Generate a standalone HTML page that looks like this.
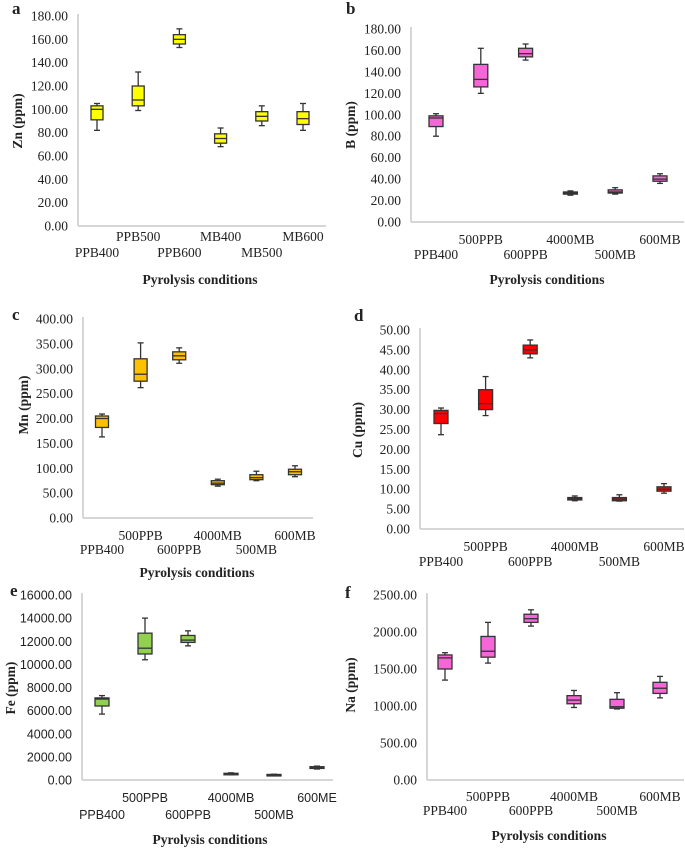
<!DOCTYPE html>
<html><head><meta charset="utf-8"><style>
html,body{margin:0;padding:0;background:#fff;}
svg{display:block;}
text{font-family:"Liberation Serif",serif;fill:#222;}
</style></head><body>
<svg id="fig" width="685" height="848" viewBox="0 0 685 848"></svg>
<script>
const catsA=["PPB400","PPB500","PPB600","MB400","MB500","MB600"];
const catsB=["PPB400","500PPB","600PPB","4000MB","500MB","600MB"];
const cats600E=["PPB400","500PPB","600PPB","4000MB","500MB","600ME"];
// [min,q1,median,q3,max]
const znVals=[[82,91,100,103,105],[99,103,108,120,132],[153,156,160,164,169],[68,71,75,79,84],[86,90,94,98,103],[82,87,92,98,105]];
const bVals=[[80,89,97,99,101],[120,126,133,147,162],[151,154,157,162,166],[25,26,27,28,29],[26,27,28,30,32],[36,38,40,43,45]];
const mnVals=[[163,182,200,205,209],[262,275,289,320,352],[311,318,326,334,342],[64,67,70,75,78],[75,77,81,87,94],[83,87,93,98,105]];
const cuVals=[[23.7,26.5,29,29.8,30.4],[28.5,30,31.5,35,38.3],[43,44,45,46.2,47.5],[7.1,7.3,7.6,7.9,8.3],[7,7.1,7.5,7.9,8.6],[9,9.5,10,10.6,11.4]];
const feVals=[[5700,6400,7000,7100,7300],[10400,10900,11400,12700,14000],[11600,11900,12100,12500,12900],[450,500,550,580,620],[400,430,450,480,500],[950,1000,1100,1150,1200]];
const naVals=[[1350,1500,1650,1690,1720],[1580,1660,1740,1940,2130],[2080,2130,2180,2240,2300],[980,1030,1080,1140,1210],[960,970,990,1090,1180],[1110,1170,1240,1320,1400]];
const znTicks=[0,20,40,60,80,100,120,140,160,180];
const bTicks=[0,20,40,60,80,100,120,140,160,180];
const mnTicks=[0,50,100,150,200,250,300,350,400];
const cuTicks=[0,5,10,15,20,25,30,35,40,45,50];
const feTicks=[0,2000,4000,6000,8000,10000,12000,14000,16000];
const naTicks=[0,500,1000,1500,2000,2500];

const NS="http://www.w3.org/2000/svg";
const svg=document.getElementById('fig');
function mk(tag,attrs,parent,txt){const e=document.createElementNS(NS,tag);for(const k in attrs)e.setAttribute(k,attrs[k]);if(txt!==undefined)e.textContent=txt;(parent||svg).appendChild(e);return e;}

const panels=[
 {id:"zn",letter:"a",lx:12,ly:14,cats:catsA,vals:znVals,ticks:znTicks,ax:78,xEnd:326,yTop:16,yBot:226,cx0:97,dx:41.2,color:"#ffff00",ylab:"Zn  (ppm)",ylx:17,yly:121,labUp:241,labLo:257,title:"Pyrolysis conditions",tx:200,ty:284,sans:false,bw:12},
 {id:"b",letter:"b",lx:346,ly:14,cats:catsB,vals:bVals,ticks:bTicks,ax:411,xEnd:684,yTop:29,yBot:222,cx0:436,dx:44.8,color:"#f766d6",ylab:"B (ppm)",ylx:350,yly:125,labUp:244,labLo:259,title:"Pyrolysis conditions",tx:547,ty:284,sans:false,bw:14},
 {id:"mn",letter:"c",lx:12,ly:320,cats:catsB,vals:mnVals,ticks:mnTicks,ax:83,xEnd:313,yTop:319,yBot:518,cx0:102,dx:38.6,color:"#ffc000",ylab:"Mn (ppm)",ylx:23,yly:405,labUp:540,labLo:554,title:"Pyrolysis conditions",tx:197,ty:577,sans:false,bw:13},
 {id:"cu",letter:"d",lx:354,ly:321,cats:catsB,vals:cuVals,ticks:cuTicks,ax:420,xEnd:684,yTop:330,yBot:529,cx0:441,dx:44.6,color:"#ff0000",ylab:"Cu  (ppm)",ylx:357,yly:430,labUp:551,labLo:566,title:null,sans:false,bw:14},
 {id:"fe",letter:"e",lx:10,ly:596,cats:cats600E,vals:feVals,ticks:feTicks,ax:82,xEnd:333,yTop:595,yBot:780,cx0:102,dx:43,color:"#92d050",ylab:"Fe  (ppm)",ylx:10,yly:688,labUp:802,labLo:819,title:"Pyrolysis conditions",tx:210,ty:844,sans:true,bw:14},
 {id:"na",letter:"f",lx:345,ly:598,cats:catsB,vals:naVals,ticks:naTicks,ax:427,xEnd:684,yTop:595,yBot:780,cx0:445,dx:43,color:"#f766d6",ylab:"Na  (ppm)",ylx:350,yly:685,labUp:801,labLo:815,title:"Pyrolysis conditions",tx:549,ty:840,sans:false,bw:14}
];

panels.forEach(p=>{
 const g=mk('g',{});
 
 
 const tmax=p.ticks[p.ticks.length-1];
 const y=v=>p.yBot-(v/tmax)*(p.yBot-p.yTop);
 const x=i=>p.cx0+i*p.dx;
 const ff=p.sans?'"Liberation Sans",sans-serif':'"Liberation Serif",serif';
 const L=mk('text',{x:p.lx,y:p.ly,'font-size':17,'font-weight':'bold'},g,p.letter);
 
 
 const ya=mk('line',{x1:p.ax,y1:p.yTop-2,x2:p.ax,y2:p.yBot,stroke:'#d6d6d6','stroke-width':2},g);
 
 
 const xa=mk('line',{x1:p.ax,y1:p.yBot,x2:p.xEnd,y2:p.yBot,stroke:'#d6d6d6','stroke-width':2},g);
 
 
 p.ticks.forEach(t=>{
  const tl=mk('text',{x:p.ax-10,y:y(t)+4.5,'text-anchor':'end','font-size':p.sans?12.5:13.5,style:'font-family:'+ff},g,t.toFixed(2));
  
  
 });
 const yl=mk('text',{x:0,y:0,'font-size':13.5,'font-weight':'bold','text-anchor':'middle',transform:`translate(${p.ylx+5},${p.yly}) rotate(-90)`},g,p.ylab);
 
 
 p.cats.forEach((c,i)=>{
  const cl=mk('text',{x:x(i),y:i%2?p.labUp:p.labLo,'text-anchor':'middle','font-size':p.sans?12.5:13.5,style:'font-family:'+ff},g,c);
  
  
 });
 if(p.title){
  const t=mk('text',{x:p.tx,y:p.ty,'text-anchor':'middle','font-size':13.5,'font-weight':'bold'},g,p.title);
  
  
 }
 p.vals.forEach((v,i)=>{
  const bg=mk('g',{},g);
  
  
  const cx=x(i),hw=p.bw/2;
  mk('line',{x1:cx,y1:y(v[0]),x2:cx,y2:y(v[4]),stroke:'#333','stroke-width':1.3},bg);
  mk('line',{x1:cx-3,y1:y(v[0]),x2:cx+3,y2:y(v[0]),stroke:'#333','stroke-width':1.3},bg);
  mk('line',{x1:cx-3,y1:y(v[4]),x2:cx+3,y2:y(v[4]),stroke:'#333','stroke-width':1.3},bg);
  mk('rect',{x:cx-hw,y:y(v[3]),width:p.bw,height:Math.max(1.5,y(v[1])-y(v[3])),fill:p.color,stroke:'#333','stroke-width':1.3},bg);
  mk('line',{x1:cx-hw,y1:y(v[2]),x2:cx+hw,y2:y(v[2]),stroke:'#333','stroke-width':1.3},bg);
 });
});
</script>
</body></html>
